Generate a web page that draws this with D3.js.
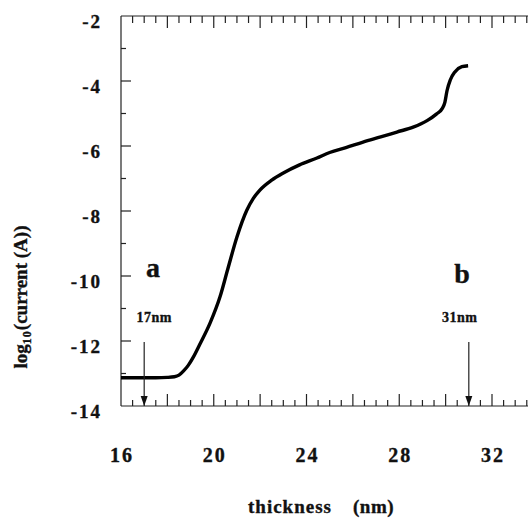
<!DOCTYPE html>
<html><head><meta charset="utf-8">
<script src="https://cdn.jsdelivr.net/npm/d3@7"></script>
<style>body{margin:0;background:#fff}svg{display:block}text{font-family:"Liberation Serif","Times New Roman",serif;font-weight:bold;fill:#111;stroke:#111;stroke-width:0.35}</style>
</head><body>
<script>
const thickness = [16.0,16.5,17.0,17.5,18.0,18.3,18.5,18.7,18.9,19.1,19.4,19.84,20.27,20.6,21.0,21.43,21.7,22.0,22.5,23.0,23.7,24.45,25.0,25.7,26.44,27.2,27.9,28.6,29.2,29.6,29.85,29.97,30.06,30.2,30.4,30.7,30.97];
const logCurrent = [-13.13,-13.13,-13.13,-13.13,-13.12,-13.1,-13.05,-12.92,-12.75,-12.52,-12.1,-11.45,-10.64,-9.8,-8.8,-7.97,-7.62,-7.35,-7.05,-6.83,-6.58,-6.37,-6.2,-6.05,-5.88,-5.72,-5.57,-5.42,-5.22,-5.02,-4.85,-4.65,-4.3,-3.97,-3.72,-3.56,-3.53];
const xTicks = [16,20,24,28,32];
const yTicks = [-2,-4,-6,-8,-10,-12,-14];
const markers = [{x:17,label:"17nm",letter:"a"},{x:31,label:"31nm",letter:"b"}];

const W=528,H=518;
const svg=d3.select("body").append("svg").attr("width",W).attr("height",H);
const x=d3.scaleLinear().domain([16,32]).range([121,492]);
const y=d3.scaleLinear().domain([-14,-2]).range([406,16]);
const xMax=x.invert(W);

const g=svg.append("g").attr("stroke","#222").attr("stroke-width",1.2).attr("fill","none");
g.append("line").attr("x1",x(16)).attr("x2",W).attr("y1",y(-2)).attr("y2",y(-2));
g.append("line").attr("x1",x(16)).attr("x2",W).attr("y1",y(-14)).attr("y2",y(-14));
g.append("line").attr("x1",x(16)).attr("x2",x(16)).attr("y1",y(-2)).attr("y2",y(-14));

const xt=d3.range(16.5,xMax,0.5);
xt.forEach(v=>{
  const major=Math.abs(v%2)<1e-6;
  g.append("line").attr("x1",x(v)).attr("x2",x(v)).attr("y1",y(-14)).attr("y2",y(-14)-(major?12:6));
  g.append("line").attr("x1",x(v)).attr("x2",x(v)).attr("y1",y(-2)).attr("y2",y(-2)+(major?12:7));
});
d3.range(-13,-2,1).forEach(v=>{
  const major=Math.abs(v%2)<1e-6;
  g.append("line").attr("x1",x(16)).attr("x2",x(16)+(major?10:5)).attr("y1",y(v)).attr("y2",y(v));
});

svg.selectAll(".xl").data(xTicks).join("text").attr("x",d=>x(d)+1).attr("y",462)
  .attr("text-anchor","middle").attr("font-size",20).attr("letter-spacing",2).text(d=>d);
svg.selectAll(".yl").data(yTicks).join("text").attr("x",102).attr("y",d=>y(d)+12)
  .attr("text-anchor","end").attr("font-size",19).attr("letter-spacing",2).text(d=>"-"+Math.abs(d));

svg.append("text").attr("x",248).attr("y",513).attr("font-size",19).attr("letter-spacing",1).text("thickness");
svg.append("text").attr("x",353).attr("y",513).attr("font-size",19).attr("letter-spacing",0.5).text("(nm)");
const yt=svg.append("text").attr("transform","translate(27,297) rotate(-90)").attr("text-anchor","middle").attr("font-size",19);
yt.append("tspan").text("log");
yt.append("tspan").attr("font-size",12).attr("dy",4).attr("letter-spacing",1).text("10");
yt.append("tspan").attr("dy",-4).text("(current (A))");

const line=d3.line().x((d,i)=>x(thickness[i])).y(d=>y(d)).curve(d3.curveMonotoneX);
svg.append("path").datum(logCurrent).attr("d",line).attr("fill","none").attr("stroke","#000").attr("stroke-width",3.4);

markers.forEach(m=>{
  const px=x(m.x);
  svg.append("line").attr("x1",px).attr("x2",px).attr("y1",342).attr("y2",y(-14)-8).attr("stroke","#222").attr("stroke-width",1.2);
  svg.append("path").attr("d",`M${px-3.5},${y(-14)-10}L${px+3.5},${y(-14)-10}L${px},${y(-14)}Z`).attr("fill","#111");
  svg.append("text").attr("x",px+(m.letter==="a"?10:-9)).attr("y",322).attr("text-anchor","middle").attr("font-size",14).attr("letter-spacing",0.5).text(m.label);
});
svg.append("text").attr("x",153).attr("y",277).attr("text-anchor","middle").attr("font-size",28).text("a");
svg.append("text").attr("x",462).attr("y",283).attr("text-anchor","middle").attr("font-size",28).text("b");
</script>
</body></html>
